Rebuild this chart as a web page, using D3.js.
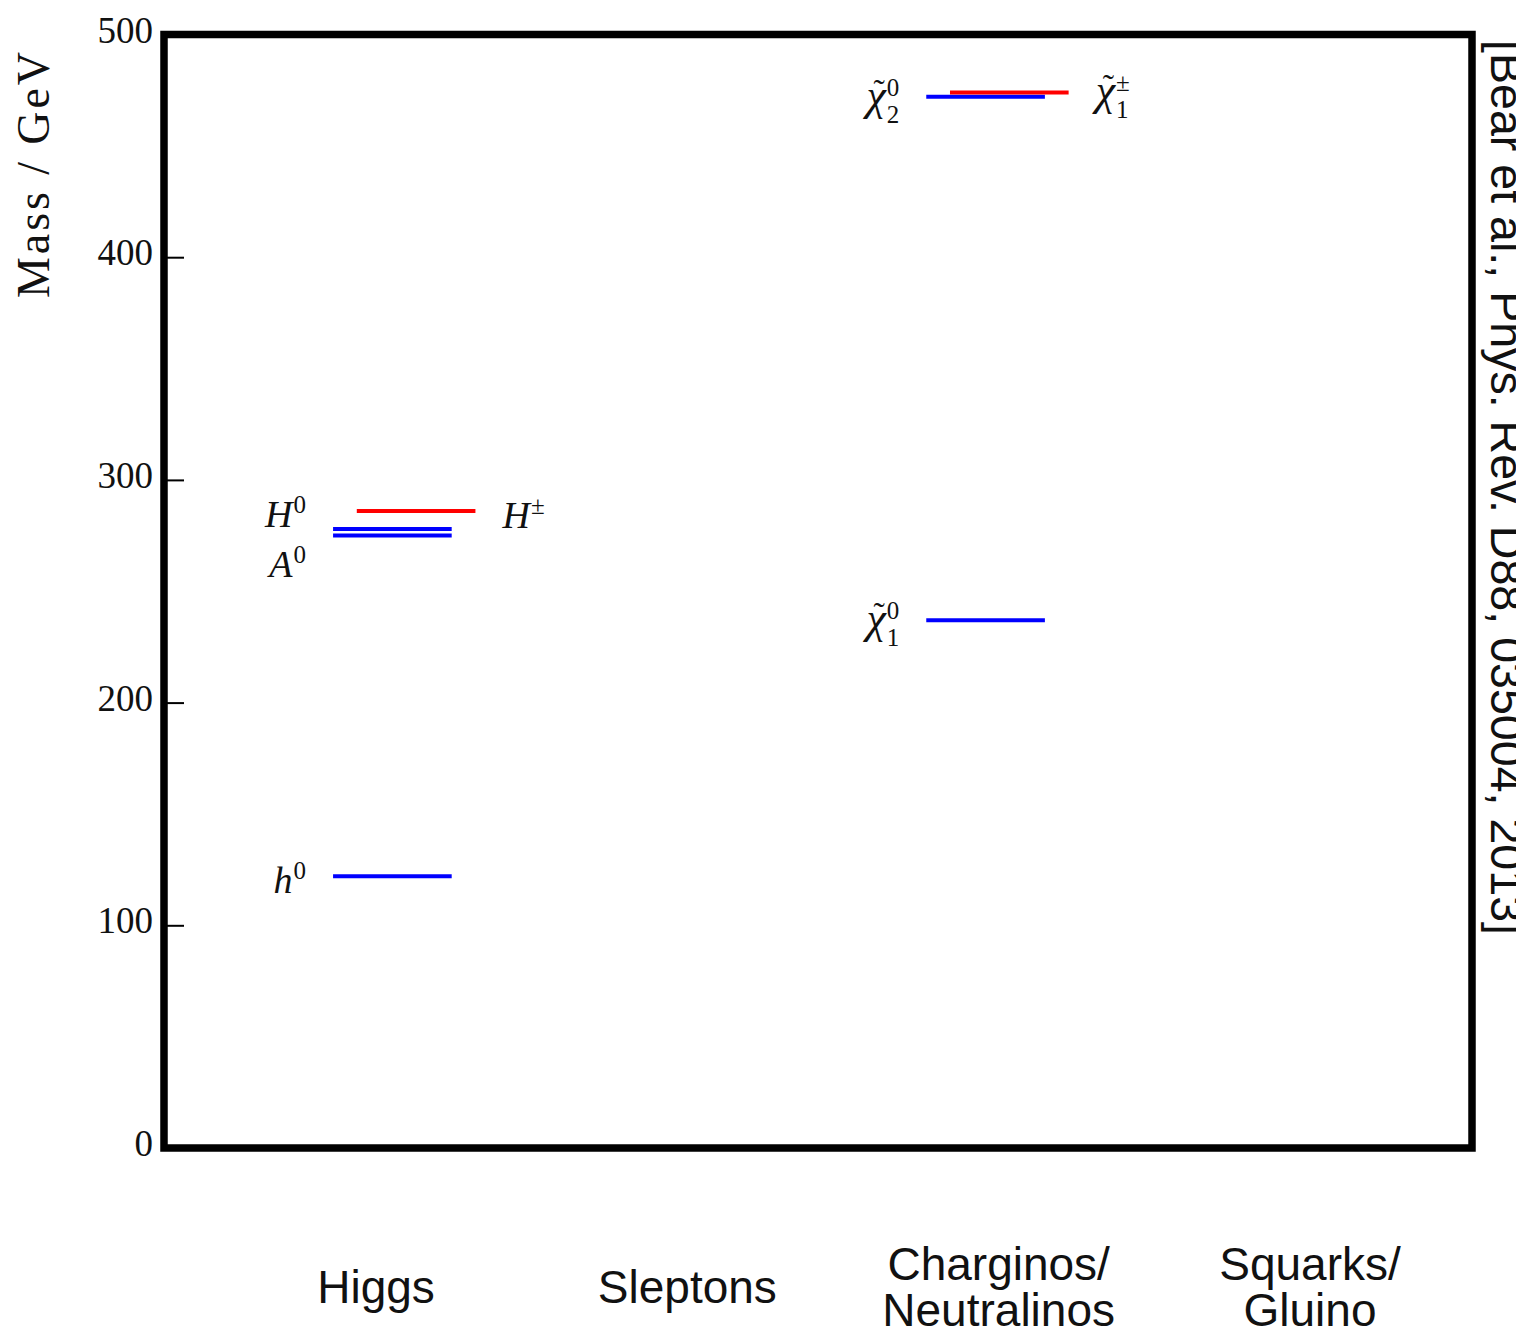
<!DOCTYPE html>
<html>
<head>
<meta charset="utf-8">
<script src="https://cdn.jsdelivr.net/npm/d3@7"></script>
<style>
  html, body { margin: 0; padding: 0; background: #fff; }
  svg { display: block; }
</style>
</head>
<body>
<svg id="chart" width="1516" height="1329"></svg>
<script>
// Mass axis ticks (GeV)
const massTicks = [0, 100, 200, 300, 400, 500];

// Particle groups along the horizontal axis
const categories = ["Higgs", "Sleptons", "Charginos/Neutralinos", "Squarks/Gluino"];
const categoryLines = [["Higgs"], ["Sleptons"], ["Charginos/", "Neutralinos"], ["Squarks/", "Gluino"]];

// Spectrum: one entry per particle
const particleIds      = ["h0", "H0", "A0", "Hpm", "chi10", "chi20", "chi1pm"];
const particleCategory = [0, 0, 0, 0, 2, 2, 2];
const particleMass     = [122, 278, 275, 286, 237, 472, 474];
const particleCharged  = [false, false, false, true, false, false, true];
const particleSymbol   = ["h", "H", "A", "H", "χ", "χ", "χ"];
const particleTilde    = [false, false, false, false, true, true, true];
const particleSup      = ["0", "0", "0", "±", "0", "0", "±"];
const particleSub      = ["", "", "", "", "1", "2", "1"];

const citation = "[Bear et al., Phys. Rev. D88, 035004, 2013]";

const svg = d3.select("#chart");

// Scales
const y = d3.scaleLinear().domain([0, 500]).range([1148, 34.5]);
const x = d3.scaleLinear().domain([-0.77, 3.64]).range([164, 1472]);
const xLabel = d3.scalePoint().domain(categories).range([376, 1310]);

const serif = "'Liberation Serif', 'DejaVu Serif', serif";
const sans = "'Liberation Sans', Arial, sans-serif";

// Plot frame
svg.append("rect")
  .attr("x", x(-0.77)).attr("y", y(500))
  .attr("width", x(3.64) - x(-0.77)).attr("height", y(0) - y(500))
  .attr("fill", "none").attr("stroke", "#000").attr("stroke-width", 7.5);

// Inward ticks on the mass axis
const yAxis = d3.axisRight(y).tickValues(massTicks.filter(t => t > 0 && t < 500))
  .tickSize(20).tickFormat("");
const axisG = svg.append("g").attr("transform", `translate(${x(-0.77)},0)`).call(yAxis);
axisG.select(".domain").remove();
axisG.selectAll(".tick line").attr("stroke", "#000").attr("stroke-width", 2);

// Tick labels
svg.append("g").selectAll("text").data(massTicks).join("text")
  .attr("x", 153).attr("y", d => y(d) + 8)
  .attr("text-anchor", "end")
  .attr("font-family", serif).attr("font-size", 37)
  .attr("fill", "#111")
  .text(d => d);

// Axis title
svg.append("text")
  .attr("transform", "translate(49,175) rotate(-90)")
  .attr("text-anchor", "middle")
  .attr("font-family", serif).attr("font-size", 46)
  .attr("textLength", 246).attr("lengthAdjust", "spacing")
  .attr("fill", "#111")
  .text("Mass / GeV");

// Citation along the right edge
svg.append("text")
  .attr("transform", "translate(1491,40) rotate(90)")
  .attr("font-family", sans).attr("font-size", 46)
  .attr("textLength", 895).attr("lengthAdjust", "spacingAndGlyphs")
  .attr("fill", "#111")
  .text(citation);

// Category labels below the frame (one text element per category)
categories.forEach((c, i) => {
  const lines = categoryLines[i];
  const t = svg.append("text")
    .attr("x", xLabel(c))
    .attr("y", lines.length === 1 ? 1303 : 1280)
    .attr("text-anchor", "middle")
    .attr("font-family", sans).attr("font-size", 46)
    .attr("fill", "#111");
  lines.forEach((ln, j) => {
    t.append("tspan")
      .attr("x", xLabel(c))
      .attr("dy", j === 0 ? 0 : 46)
      .text(ln);
  });
});

// Mass levels
const levels = particleIds.map((id, i) => ({
  id, i,
  cat: particleCategory[i],
  mass: particleMass[i],
  charged: particleCharged[i]
}));
const span = d => d.charged ? [-0.12, 0.28] : [-0.2, 0.2];

svg.append("g").selectAll("line").data(levels).join("line")
  .attr("x1", d => x(d.cat + span(d)[0]))
  .attr("x2", d => x(d.cat + span(d)[1]))
  .attr("y1", d => y(d.mass)).attr("y2", d => y(d.mass))
  .attr("stroke", d => d.charged ? "#ff0000" : "#0000ff")
  .attr("stroke-width", 4);

// Particle labels: neutral ones to the left of the level, charged ones to the right
const nudge = { H0: -19, A0: 24 };
const gap = 27;
levels.forEach(d => {
  const i = d.i;
  const isChi = particleTilde[i];
  const t = svg.append("text")
    .attr("font-family", serif).attr("fill", "#111");
  const main = t.append("tspan")
    .attr("font-style", "italic")
    .attr("font-size", isChi ? 44 : 38)
    .text(particleSymbol[i]);
  let lift = 0;
  let back = 0;
  if (isChi) {
    // tilde accent centred over the chi
    const wMain = main.node().getComputedTextLength();
    const tl = t.append("tspan")
      .attr("font-size", 34)
      .text("\u02DC");
    const wT = tl.node().getComputedTextLength();
    lift = -7;
    tl.attr("dx", -(wMain / 2 + wT / 2) + 3).attr("dy", lift);
    back = wMain / 2 - wT / 2 - 3;
  }
  const sup = t.append("tspan")
    .attr("font-size", 25)
    .attr("dx", back + 1)
    .attr("dy", -14 - lift)
    .text(particleSup[i]);
  if (particleSub[i]) {
    const supLen = sup.node().getComputedTextLength();
    t.append("tspan")
      .attr("font-size", 25)
      .attr("dx", -supLen)
      .attr("dy", 27)
      .text(particleSub[i]);
  }
  const bb = t.node().getBBox();
  const base = y(d.mass) + (isChi ? 13 : 17) + (nudge[d.id] || 0);
  let gx;
  if (d.charged) {
    gx = x(d.cat + span(d)[1]) + gap;
  } else {
    gx = x(d.cat + span(d)[0]) - gap - (bb.x + bb.width);
  }
  t.attr("x", gx).attr("y", base);
  main.attr("x", gx);
});
</script>
</body>
</html>
